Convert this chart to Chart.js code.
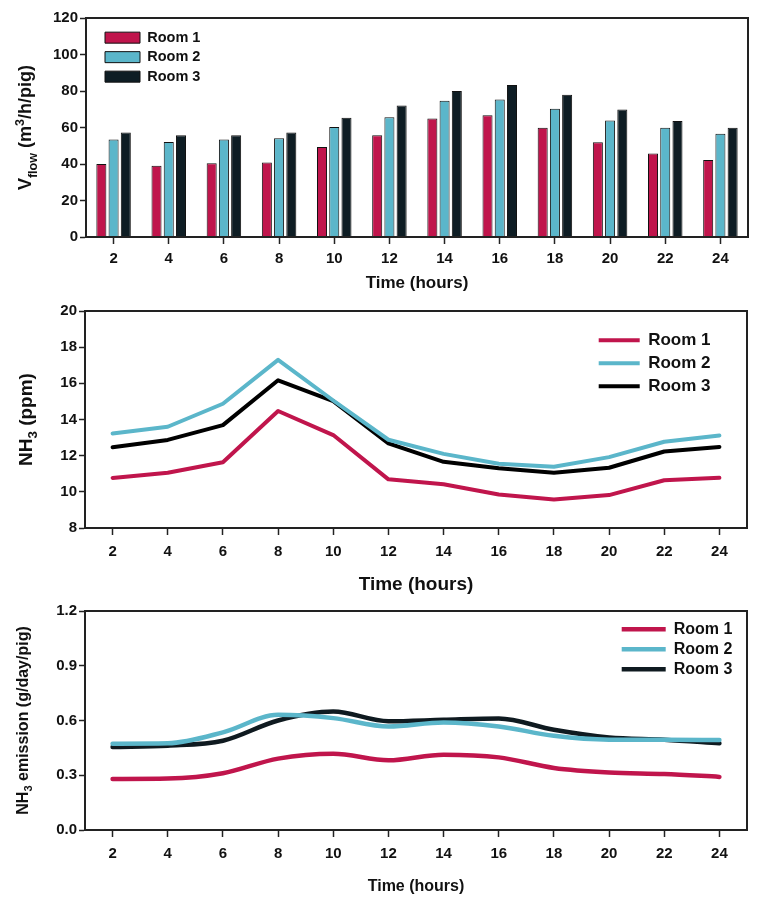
<!DOCTYPE html>
<html><head><meta charset="utf-8">
<script src="https://cdn.jsdelivr.net/npm/chart.js@4.4.1/dist/chart.umd.min.js"></script>
<style>
html,body{margin:0;padding:0;background:#fff;}
body{width:762px;height:906px;position:relative;overflow:hidden;}
.box{position:absolute;left:0;width:762px;}
</style></head><body>
<div class="box" style="top:0;height:300px"><canvas id="c1"></canvas></div>
<div class="box" style="top:300px;height:300px"><canvas id="c2"></canvas></div>
<div class="box" style="top:600px;height:306px"><canvas id="c3"></canvas></div>
<script>
// ---------- data ----------
const hours = ['2','4','6','8','10','12','14','16','18','20','22','24'];
const roomNames = ['Room 1','Room 2','Room 3'];

const vflowRoom1 = [40.0, 39.1, 40.4, 40.8, 49.3, 55.7, 65.0, 66.7, 59.9, 51.9, 45.7, 42.2];
const vflowRoom2 = [53.4, 52.1, 53.4, 54.1, 60.3, 65.6, 74.7, 75.3, 70.3, 63.9, 59.9, 56.6];
const vflowRoom3 = [57.2, 55.8, 55.8, 57.2, 65.4, 72.0, 80.0, 83.3, 78.0, 69.8, 63.6, 59.9];

const nh3Room1 = [10.77, 11.06, 11.64, 14.47, 13.14, 10.69, 10.42, 9.85, 9.58, 9.82, 10.64, 10.78];
const nh3Room2 = [13.23, 13.60, 14.87, 17.30, 15.05, 12.88, 12.10, 11.55, 11.39, 11.92, 12.77, 13.12];
const nh3Room3 = [12.46, 12.87, 13.69, 16.17, 15.02, 12.68, 11.66, 11.31, 11.06, 11.33, 12.23, 12.48];

const emRoom1 = [0.280, 0.282, 0.311, 0.391, 0.418, 0.382, 0.413, 0.398, 0.340, 0.315, 0.307, 0.291];
const emRoom2 = [0.473, 0.475, 0.535, 0.631, 0.613, 0.567, 0.589, 0.567, 0.516, 0.495, 0.495, 0.493];
const emRoom3 = [0.455, 0.462, 0.489, 0.600, 0.649, 0.596, 0.604, 0.611, 0.549, 0.507, 0.495, 0.475];

const xTitle = 'Time (hours)';

// ---------- styling ----------
const FAM = "'Liberation Sans', Arial, Helvetica, sans-serif";
Chart.defaults.font.family = FAM;
Chart.defaults.font.weight = 'bold';
Chart.defaults.color = '#111';
Chart.defaults.animation = false;

const RED = '#C0154C', CYAN = '#5BB6CA', DARK = '#0E1D24', BLACK = '#000000', DARK2 = '#0F1A20';
const AX = '#222';

const frame = {
  id: 'frame',
  afterDatasetsDraw(chart) {
    const {ctx, chartArea: a} = chart;
    ctx.save(); ctx.strokeStyle = AX; ctx.lineWidth = 2;
    ctx.strokeRect(a.left, a.top, a.right - a.left, a.bottom - a.top);
    ctx.restore();
  }
};
const richTitle = {
  id: 'richTitle',
  afterDraw(chart, args, o) {
    if (!o || !o.parts) return;
    const ctx = chart.ctx, ca = chart.chartArea;
    const f = p => `bold ${p.s ? o.size * 0.7 : o.size}px ${FAM}`;
    ctx.save();
    ctx.fillStyle = '#111';
    ctx.textBaseline = 'alphabetic';
    ctx.textAlign = 'left';
    ctx.translate(o.x, (ca.top + ca.bottom) / 2);
    ctx.rotate(-Math.PI / 2);
    let tot = 0;
    const w = o.parts.map(p => { ctx.font = f(p); const m = ctx.measureText(p.t).width; tot += m; return m; });
    let x = -tot / 2;
    const base = o.size * 0.36;
    o.parts.forEach((p, i) => {
      ctx.font = f(p);
      const dy = p.s === 'sub' ? o.size * 0.28 : p.s === 'sup' ? -o.size * 0.42 : 0;
      ctx.fillText(p.t, x, base + dy);
      x += w[i];
    });
    ctx.restore();
  }
};
const legendPlace = {
  id: 'legendPlace',
  afterLayout(chart, args, o) {
    const lg = chart.legend; if (!lg || !o) return;
    const a = chart.chartArea;
    lg.left = a.left + o.dx; lg.top = a.top + o.dy;
    lg.right = lg.left + lg.width; lg.bottom = a.bottom;
  }
};

function xScale(h, titleSize, titlePad, tickSize, tickPad) {
  return {
    type: 'category', offset: true,
    grid: {display: true, drawOnChartArea: false, drawTicks: true, tickLength: 7, tickWidth: 1.5, tickColor: AX, offset: false},
    border: {display: true, width: 2, color: AX},
    ticks: {color: '#111', font: {size: tickSize, weight: 'bold'}, padding: tickPad, maxRotation: 0, autoSkip: false},
    title: {display: true, text: xTitle, color: '#111', font: {size: titleSize, weight: 'bold'}, padding: {top: 0, bottom: titlePad}},
    afterFit: s => { s.height = h; }
  };
}
function yScale(w, min, max, step, tickSize, dec) {
  return {
    min: min, max: max,
    grid: {display: true, drawOnChartArea: false, drawTicks: true, tickLength: 6, tickWidth: 1.5, tickColor: AX},
    border: {display: true, width: 2, color: AX},
    ticks: {stepSize: step, color: '#111', font: {size: tickSize, weight: 'bold'}, padding: 2,
            callback: v => dec ? Number(v).toFixed(dec) : v},
    afterFit: s => { s.width = w; }
  };
}

// ---------- chart 1: bars ----------
new Chart(document.getElementById('c1'), {
  type: 'bar',
  data: {
    labels: hours,
    datasets: [
      {label: roomNames[0], data: vflowRoom1, backgroundColor: RED},
      {label: roomNames[1], data: vflowRoom2, backgroundColor: CYAN},
      {label: roomNames[2], data: vflowRoom3, backgroundColor: DARK}
    ].map(d => Object.assign(d, {borderColor: '#111', borderWidth: 1, categoryPercentage: 0.665, barPercentage: 0.82}))
  },
  options: {
    responsive: true, maintainAspectRatio: false,
    layout: {padding: {top: 18, right: 14, bottom: 0, left: 0}},
    scales: {x: xScale(63, 17, 6, 15, 6), y: yScale(86, 0, 120, 20, 15, 0)},
    plugins: {
      tooltip: {enabled: false},
      legend: {position: 'chartArea', align: 'start',
        labels: {boxWidth: 35, boxHeight: 11, padding: 5, color: '#111', font: {size: 14.5, weight: 'bold'}}},
      legendPlace: {dx: 14, dy: 7.4},
      richTitle: {x: 25, size: 18, parts: [{t: 'V'}, {t: 'flow', s: 'sub'}, {t: ' (m'}, {t: '3', s: 'sup'}, {t: '/h/pig)'}]}
    }
  },
  plugins: [frame, richTitle, legendPlace]
});

function lineDs(label, data, color, width, smooth) {
  return {label: label, data: data, borderColor: color, backgroundColor: color, borderWidth: width,
          pointRadius: 0, fill: false, borderJoinStyle: 'round', borderCapStyle: 'round',
          tension: 0, cubicInterpolationMode: smooth ? 'monotone' : 'default'};
}

// ---------- chart 2: NH3 ppm ----------
new Chart(document.getElementById('c2'), {
  type: 'line',
  data: {
    labels: hours,
    datasets: [
      lineDs(roomNames[0], nh3Room1, RED, 4, false),
      lineDs(roomNames[1], nh3Room2, CYAN, 4, false),
      lineDs(roomNames[2], nh3Room3, BLACK, 4, false)
    ]
  },
  options: {
    responsive: true, maintainAspectRatio: false,
    layout: {padding: {top: 9, right: 15, bottom: 0, left: 0}},
    scales: {x: xScale(72, 19, 4, 15, 8), y: yScale(85, 8, 20, 2, 15, 0)},
    plugins: {
      tooltip: {enabled: false},
      legend: {position: 'chartArea', align: 'start',
        labels: {usePointStyle: true, pointStyle: 'line', pointStyleWidth: 41, padding: 6, color: '#111', font: {size: 17, weight: 'bold'}}},
      legendPlace: {dx: 507.7, dy: 14.8},
      richTitle: {x: 25, size: 19, parts: [{t: 'NH'}, {t: '3', s: 'sub'}, {t: ' (ppm)'}]}
    }
  },
  plugins: [frame, richTitle, legendPlace]
});

// ---------- chart 3: NH3 emission ----------
new Chart(document.getElementById('c3'), {
  type: 'line',
  data: {
    labels: hours,
    datasets: [
      lineDs(roomNames[0], emRoom1, RED, 4.5, true),
      lineDs(roomNames[1], emRoom2, CYAN, 4.5, true),
      lineDs(roomNames[2], emRoom3, DARK2, 4.5, true)
    ]
  },
  options: {
    responsive: true, maintainAspectRatio: false,
    layout: {padding: {top: 11, right: 15, bottom: 0, left: 0}},
    scales: {x: xScale(76, 16, 10, 15, 8), y: yScale(85, 0, 1.2, 0.3, 15, 1)},
    plugins: {
      tooltip: {enabled: false},
      legend: {position: 'chartArea', align: 'start',
        labels: {usePointStyle: true, pointStyle: 'line', pointStyleWidth: 44, padding: 4, color: '#111', font: {size: 16, weight: 'bold'}}},
      legendPlace: {dx: 532.7, dy: 6.3},
      richTitle: {x: 22, size: 16, parts: [{t: 'NH'}, {t: '3', s: 'sub'}, {t: ' emission (g/day/pig)'}]}
    }
  },
  plugins: [frame, richTitle, legendPlace]
});
</script>
</body></html>
